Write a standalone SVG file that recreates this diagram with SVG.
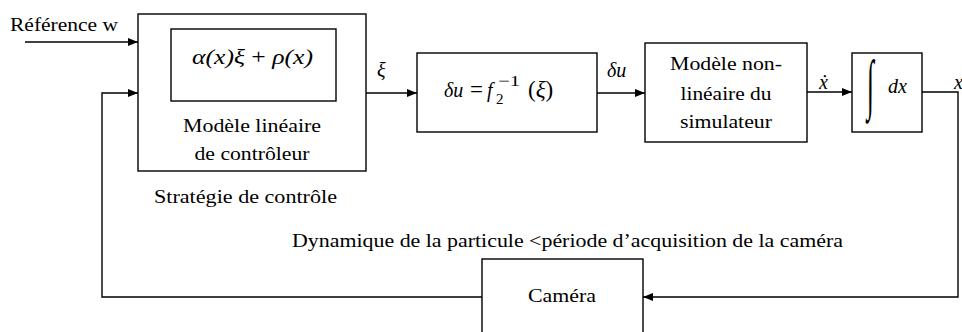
<svg xmlns="http://www.w3.org/2000/svg" width="962" height="332" viewBox="0 0 962 332">
<defs>
<marker id="ah" viewBox="0 0 10 8" refX="10" refY="4" markerWidth="10" markerHeight="8" markerUnits="userSpaceOnUse" orient="auto">
<path d="M0,0 L10,4 L0,8 Z" fill="#000"/>
</marker>
<style>
.box{fill:#fff;stroke:#000;stroke-width:1.4}
.ln{fill:none;stroke:#000;stroke-width:1.4}
text{fill:#000}
.t{font-size:19px}
.m{font-style:italic;font-size:20px}
.mu{font-style:normal}
</style>
</defs>
<rect width="962" height="332" fill="#fff"/>

<g id="connectors">
<path class="ln" d="M25,42 H138" marker-end="url(#ah)"/>
<path class="ln" d="M482,297 H102 V93 H138" marker-end="url(#ah)"/>
<path class="ln" d="M366,93 H417" marker-end="url(#ah)"/>
<path class="ln" d="M597,93 H645" marker-end="url(#ah)"/>
<path class="ln" d="M807,92 H852" marker-end="url(#ah)"/>
<path class="ln" d="M922,92 H958 V297 H643" marker-end="url(#ah)"/>
<text class="m" font-family="Liberation Serif, serif" x="377" y="77">ξ</text>
<text class="m" font-family="Liberation Serif, serif" x="607" y="77">δu</text>
<text class="m" font-family="Liberation Serif, serif" x="819" y="89">ẋ</text>
<text class="m" font-family="Liberation Serif, serif" x="954" y="89">x</text>
</g>

<g id="reference">
<text class="t" font-family="Liberation Serif, serif" x="10" y="31" textLength="108" lengthAdjust="spacingAndGlyphs">Référence w</text>
</g>

<g id="controleur">
<rect class="box" x="138" y="14" width="228" height="157"/>
<rect class="box" x="171" y="29" width="165" height="72"/>
<text class="m" font-family="Liberation Serif, serif" font-size="22" x="192" y="64" textLength="121" lengthAdjust="spacingAndGlyphs">α(x)ξ<tspan class="mu"> + </tspan>ρ(x)</text>
<text class="t" font-family="Liberation Serif, serif" x="252" y="132" text-anchor="middle" textLength="138" lengthAdjust="spacingAndGlyphs">Modèle linéaire</text>
<text class="t" font-family="Liberation Serif, serif" x="252" y="160" text-anchor="middle" textLength="115" lengthAdjust="spacingAndGlyphs">de contrôleur</text>
</g>

<g id="strategie">
<text class="t" font-family="Liberation Serif, serif" x="154" y="203" textLength="183" lengthAdjust="spacingAndGlyphs">Stratégie de contrôle</text>
</g>

<g id="inverse">
<rect class="box" x="417" y="53" width="180" height="79"/>
<text class="m" font-family="Liberation Serif, serif" font-size="23" x="444" y="97">δu</text>
<text font-family="Liberation Serif, serif" font-size="23" x="470" y="97">=</text>
<text class="m" font-family="Liberation Serif, serif" font-size="23" x="487" y="97">f</text>
<text font-family="Liberation Serif, serif" font-size="15" x="496" y="104">2</text>
<text font-family="Liberation Serif, serif" font-size="15" x="498" y="86" textLength="22" lengthAdjust="spacingAndGlyphs">−1</text>
<text font-family="Liberation Serif, serif" font-size="23" x="528" y="97">(<tspan font-style="italic">ξ</tspan>)</text>
</g>

<g id="simulateur">
<rect class="box" x="645" y="43" width="162" height="99"/>
<text class="t" font-family="Liberation Serif, serif" x="726" y="70" text-anchor="middle" textLength="112" lengthAdjust="spacingAndGlyphs">Modèle non-</text>
<text class="t" font-family="Liberation Serif, serif" x="726" y="100" text-anchor="middle" textLength="91" lengthAdjust="spacingAndGlyphs">linéaire du</text>
<text class="t" font-family="Liberation Serif, serif" x="726" y="128" text-anchor="middle" textLength="92" lengthAdjust="spacingAndGlyphs">simulateur</text>
</g>

<g id="integrateur">
<rect class="box" x="852" y="53" width="70" height="79"/>
<text font-family="Liberation Serif, serif" font-size="30" transform="translate(867,106) scale(0.85,2.2)">∫</text>
<text class="m" font-family="Liberation Serif, serif" font-size="23" x="888" y="93">dx</text>
</g>

<g id="dynamique">
<text class="t" font-family="Liberation Serif, serif" x="292" y="247" textLength="551" lengthAdjust="spacingAndGlyphs">Dynamique de la particule &lt;période d’acquisition de la caméra</text>
</g>

<g id="camera">
<rect class="box" x="482" y="259" width="161" height="80"/>
<text class="t" font-family="Liberation Serif, serif" x="562" y="302" text-anchor="middle" textLength="68" lengthAdjust="spacingAndGlyphs">Caméra</text>
</g>
</svg>
